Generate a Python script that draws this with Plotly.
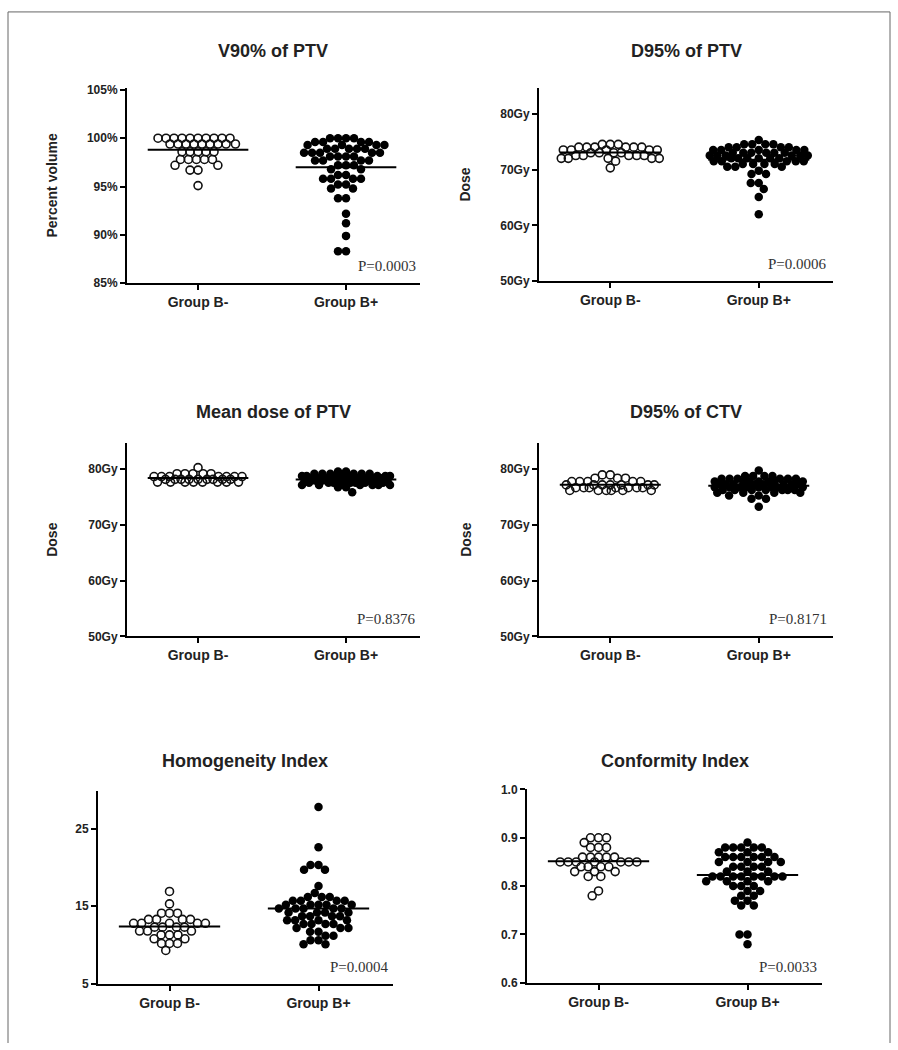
import math
import numpy as np
import plotly.graph_objects as go

W, H = 898, 1050

categories = ["Group B-", "Group B+"]

# ---- data ----
v90_neg = [100.0]*10 + [99.4]*9 + [98.6]*5 + [97.8]*5 + [97.2]*2 + [96.7]*2 + [95.1]
v90_pos = ([100.0]*4 + [99.6]*4 + [99.3]*4 + [98.9]*5 + [98.5]*5 + [98.1]*4 + [97.7]*4 +
           [97.2]*3 + [96.8]*2 + [96.2]*2 + [95.8]*4 + [95.2]*2 + [94.8]*2 +
           [93.8, 93.8, 92.2, 91.2, 89.9, 88.3, 88.3])

d95ptv_neg = [74.5]*3 + [74.0]*6 + [73.5]*5 + [73.0]*4 + [72.5]*5 + [72.0]*5 + [71.5, 70.3]
d95ptv_pos = ([75.3] + [74.5]*4 + [74.0]*4 + [73.5]*5 + [73.0]*6 + [72.5]*6 + [72.0]*6 +
              [71.5]*5 + [71.0]*4 + [70.5]*3 + [69.8, 69.2, 69.2, 67.6, 67.6, 66.5, 65.1, 62.0])

meanptv_neg = [80.3] + [79.2]*5 + [78.7]*7 + [78.2]*9 + [77.7]*8
meanptv_pos = [79.6]*2 + [79.2]*6 + [78.8]*8 + [78.4]*9 + [78.0]*9 + [77.6]*8 + [77.2]*6 + [76.8]*2 + [75.9]

d95ctv_neg = [79.0]*2 + [78.4]*3 + [77.8]*5 + [77.2]*7 + [76.7]*7 + [76.2]*6
d95ctv_pos = ([79.8] + [78.8]*4 + [78.3]*6 + [77.8]*7 + [77.3]*8 + [76.8]*8 + [76.3]*7 +
              [75.8]*4 + [75.3]*2 + [74.7]*2 + [73.3])

hi_neg = [16.9, 15.3] + [14.1]*3 + [13.3]*4 + [12.8]*5 + [12.3]*4 + [11.8]*3 + [11.3]*3 + [10.8]*2 + [10.2]*3 + [9.3]
hi_pos = ([27.8, 22.6, 20.3, 20.3, 19.7, 19.7, 17.6, 16.7] + [16.2]*3 + [15.7]*4 + [15.2]*5 +
          [14.7]*5 + [14.2]*4 + [13.7]*4 + [13.2]*4 + [12.7]*4 + [12.2]*3 + [11.7]*2 +
          [11.2]*2 + [10.6]*2 + [10.1]*2)

ci_neg = [0.90]*3 + [0.89] + [0.88]*3 + [0.86]*5 + [0.85]*7 + [0.84]*4 + [0.83]*3 + [0.82]*2 + [0.79, 0.78]
ci_pos = ([0.89] + [0.88]*5 + [0.87]*3 + [0.86]*6 + [0.85]*4 + [0.84]*4 + [0.83]*3 + [0.82]*8 +
          [0.81]*4 + [0.80]*3 + [0.79]*2 + [0.78]*2 + [0.77]*2 + [0.76]*2 + [0.70]*2 + [0.68])

titles = ["V90% of PTV", "D95% of PTV", "Mean dose of PTV", "D95% of CTV",
          "Homogeneity Index", "Conformity Index"]
y_titles = ["Percent volume", "Dose", "Dose", "Dose", "", ""]
p_values = ["P=0.0003", "P=0.0006", "P=0.8376", "P=0.8171", "P=0.0004", "P=0.0033"]
y_ticks = [[85, 90, 95, 100, 105], [50, 60, 70, 80], [50, 60, 70, 80], [50, 60, 70, 80],
           [5, 15, 25], [0.6, 0.7, 0.8, 0.9, 1.0]]
y_ticktext = [["85%", "90%", "95%", "100%", "105%"],
              ["50Gy", "60Gy", "70Gy", "80Gy"], ["50Gy", "60Gy", "70Gy", "80Gy"],
              ["50Gy", "60Gy", "70Gy", "80Gy"], ["5", "15", "25"],
              ["0.6", "0.7", "0.8", "0.9", "1.0"]]
data = [(v90_neg, v90_pos), (d95ptv_neg, d95ptv_pos), (meanptv_neg, meanptv_pos),
        (d95ctv_neg, d95ctv_pos), (hi_neg, hi_pos), (ci_neg, ci_pos)]

# ---- layout (pixels) ----
panels = [
    dict(x0=127, x1=420, yb=280, yt=82, r=(85, 105.2), tx=273, ty=45, ytx=52, pv=(418, 262), mh=48),
    dict(x0=539, x1=833, yb=278, yt=82, r=(50, 84.6), tx=686, ty=45, ytx=465, pv=(829, 260), mh=53),
    dict(x0=127, x1=420, yb=638, yt=442, r=(50, 84.7), tx=273, ty=410, ytx=52, pv=(418, 620), mh=48),
    dict(x0=539, x1=833, yb=638, yt=442, r=(50, 84.7), tx=686, ty=410, ytx=466, pv=(829, 620), mh=48),
    dict(x0=98, x1=393, yb=990, yt=795, r=(5, 29.8), tx=245, ty=764, ytx=0, pv=(391, 973), mh=50),
    dict(x0=527, x1=822, yb=989, yt=793, r=(0.6, 1.0), tx=675, ty=764, ytx=0, pv=(819, 973), mh=46),
]
XR = (-0.48, 1.5)


def swarm(values, ppu_y, ppu_x, d, maxhalf):
    """Beeswarm offsets (pixels -> data units), capped at +/- maxhalf pixels."""
    vals = np.asarray(values, float)
    order = np.argsort(-vals, kind="stable")
    placed = []
    xs = np.zeros(len(vals))
    grid = np.arange(-maxhalf, maxhalf + 0.01, 0.5)
    for i in order:
        y = vals[i] * ppu_y
        cands = [0.0]
        for px, py in placed:
            dy = y - py
            if abs(dy) < d:
                dx = math.sqrt(d * d - dy * dy)
                cands += [px + dx, px - dx]
        cands = [c for c in cands if abs(c) <= maxhalf]
        cands.sort(key=lambda c: (abs(c), c))
        best = None
        for c in cands:
            if all((c - px) ** 2 + (y - py) ** 2 >= d * d - 1e-6 for px, py in placed):
                best = c
                break
        if best is None:
            P = np.array(placed)
            dist = np.min((grid[:, None] - P[None, :, 0]) ** 2 + (y - P[None, :, 1]) ** 2, axis=1)
            score = dist - 1e-4 * np.abs(grid)
            best = float(grid[int(np.argmax(score))])
        placed.append((best, y))
        xs[i] = best
    return xs / ppu_x


fig = go.Figure()
FONT = "Liberation Sans, Arial, sans-serif"
annotations = []
layout_axes = {}

for k, (p, (neg, pos)) in enumerate(zip(panels, data)):
    n = k + 1
    xa = "x" if n == 1 else f"x{n}"
    ya = "y" if n == 1 else f"y{n}"
    ppu_x = (p["x1"] - p["x0"]) / (XR[1] - XR[0])
    ppu_y = (p["yb"] - p["yt"]) / (p["r"][1] - p["r"][0])
    for gi, vals in enumerate((neg, pos)):
        off = swarm(vals, ppu_y, ppu_x, 8.0, p["mh"] - 4)
        if gi == 0:
            marker = dict(symbol="circle-open", size=8, color="#111", line=dict(width=1.6, color="#111"))
        else:
            marker = dict(symbol="circle", size=8.5, color="#000", line=dict(width=0))
        fig.add_trace(go.Scatter(x=gi + off, y=vals, mode="markers", marker=marker,
                                 xaxis=xa, yaxis=ya, showlegend=False, hoverinfo="y"))
        m = float(np.mean(vals))
        fig.add_trace(go.Scatter(x=[gi - 0.34, gi + 0.34], y=[m, m], mode="lines",
                                 line=dict(color="#000", width=2), xaxis=xa, yaxis=ya,
                                 showlegend=False, hoverinfo="skip"))
    key_x = "xaxis" if n == 1 else f"xaxis{n}"
    key_y = "yaxis" if n == 1 else f"yaxis{n}"
    layout_axes[key_x] = dict(
        domain=[p["x0"] / W, p["x1"] / W], range=list(XR), anchor=ya,
        showline=True, linecolor="#000", linewidth=2, showgrid=False, zeroline=False,
        ticks="outside", ticklen=5, tickwidth=2, tickcolor="#000",
        tickvals=[0, 1], ticktext=categories,
        tickfont=dict(family=FONT, size=14, color="#222", weight="bold"))
    layout_axes[key_y] = dict(
        domain=[1 - p["yb"] / H, 1 - p["yt"] / H], range=list(p["r"]), anchor=xa,
        showline=True, linecolor="#000", linewidth=2, showgrid=False, zeroline=False,
        ticks="outside", ticklen=5, tickwidth=2, tickcolor="#000",
        tickvals=y_ticks[k], ticktext=y_ticktext[k],
        tickfont=dict(family=FONT, size=12, color="#222", weight="bold"))
    annotations.append(dict(text=titles[k], x=p["tx"] / W, y=1 - p["ty"] / H, xref="paper", yref="paper",
                            showarrow=False, xanchor="center", yanchor="middle",
                            font=dict(family=FONT, size=18, color="#222", weight="bold")))
    if y_titles[k]:
        annotations.append(dict(text=y_titles[k], x=p["ytx"] / W, y=1 - (p["yb"] + p["yt"]) / 2 / H,
                                xref="paper", yref="paper", showarrow=False, textangle=-90,
                                xanchor="center", yanchor="middle",
                                font=dict(family=FONT, size=14, color="#222", weight="bold")))
    annotations.append(dict(text=p_values[k], x=p["pv"][0] / W, y=1 - p["pv"][1] / H,
                            xref="paper", yref="paper", showarrow=False, xanchor="right",
                            yanchor="middle",
                            font=dict(family="Liberation Serif, Times New Roman, serif", size=15, color="#333")))

shapes = [
    dict(type="line", xref="paper", yref="paper", x0=8 / W, x1=8 / W, y0=0, y1=1 - 5 / H,
         line=dict(color="#666", width=1)),
    dict(type="line", xref="paper", yref="paper", x0=890 / W, x1=890 / W, y0=0, y1=1 - 5 / H,
         line=dict(color="#666", width=1)),
    dict(type="line", xref="paper", yref="paper", x0=8 / W, x1=890 / W, y0=1 - 5 / H, y1=1 - 5 / H,
         line=dict(color="#666", width=1)),
]

fig.update_layout(width=W, height=H, margin=dict(l=0, r=0, t=0, b=0),
                  paper_bgcolor="white", plot_bgcolor="white",
                  annotations=annotations, shapes=shapes, **layout_axes)
fig.write_html("out.html", config={"displayModeBar": False},
               post_script="document.body.style.margin='0';document.body.style.overflow='hidden';")
